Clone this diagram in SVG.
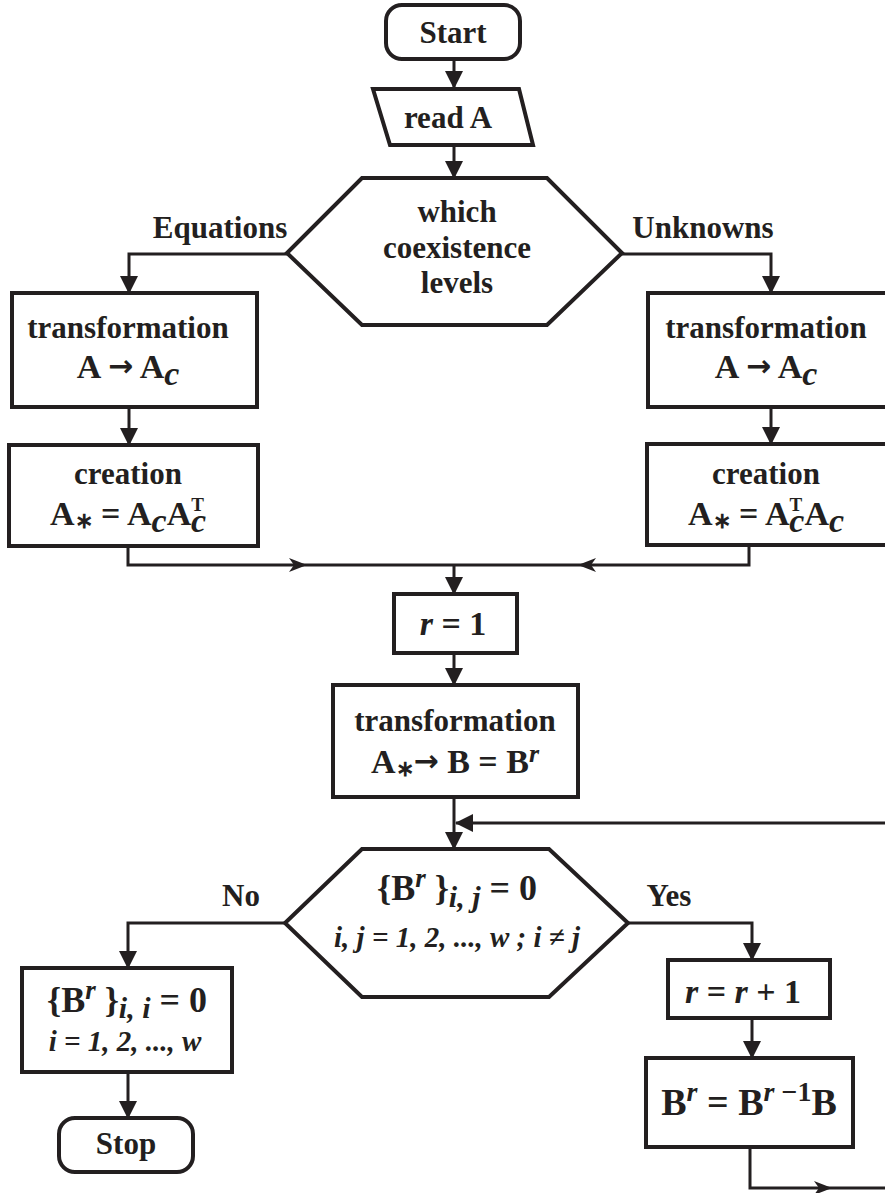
<svg xmlns="http://www.w3.org/2000/svg" width="885" height="1193" viewBox="0 0 885 1193">
<style>
.s{fill:#fff;stroke:#231f20;stroke-width:4}
.c{fill:none;stroke:#231f20;stroke-width:3}
.t{font-family:"Liberation Serif","Times New Roman",serif;font-weight:bold;font-size:31px;fill:#231f20;text-anchor:middle}
.m{font-size:34px}
.l{font-size:36px}
.xl{font-size:38px}
.i{font-style:italic}
.sm{font-size:29px}
.ar{font-family:"DejaVu Sans",sans-serif;font-weight:bold;font-size:30px}
.h{fill:#231f20}
</style>
<defs>
<marker id="ar" markerUnits="userSpaceOnUse" markerWidth="18" markerHeight="18" refX="17" refY="9" orient="auto">
<path d="M0,0 L18,9 L0,18 z" fill="#231f20"/>
</marker>
</defs>
<rect width="885" height="1193" fill="#fff"/>
<g id="connectors">
<path class="c" d="M454,59 V88" marker-end="url(#ar)"/>
<path class="c" d="M454,145 V178" marker-end="url(#ar)"/>
<path class="c" d="M287,254 H129 V293" marker-end="url(#ar)"/>
<path class="c" d="M622,254 H771 V293" marker-end="url(#ar)"/>
<path class="c" d="M129,407 V445" marker-end="url(#ar)"/>
<path class="c" d="M771,407 V444" marker-end="url(#ar)"/>
<path class="c" d="M128,546 V565 H454"/>
<path class="c" d="M749,545 V565 H454"/>
<path class="h" d="M307,565 L289,558 L294,565 L289,572 z"/>
<path class="h" d="M578,565 L596,558 L591,565 L596,572 z"/>
<path class="c" d="M454,565 V594" marker-end="url(#ar)"/>
<path class="c" d="M454,653 V685" marker-end="url(#ar)"/>
<path class="c" d="M454,797 V849" marker-end="url(#ar)"/>
<path class="c" d="M890,823 H456" marker-end="url(#ar)"/>
<path class="c" d="M285,923 H128 V968" marker-end="url(#ar)"/>
<path class="c" d="M628,923 H752 V960" marker-end="url(#ar)"/>
<path class="c" d="M128,1072 V1118" marker-end="url(#ar)"/>
<path class="c" d="M752,1018 V1058" marker-end="url(#ar)"/>
<path class="c" d="M750,1147 V1188 H890"/>
<path class="h" d="M832,1188 L814,1181 L819,1188 L814,1195 z"/>
</g>
<g id="labels">
<text class="t" x="220" y="238">Equations</text>
<text class="t" x="703" y="238">Unknowns</text>
<text class="t" x="241" y="906">No</text>
<text class="t" x="669" y="906">Yes</text>
</g>
<g id="start">
<rect class="s" x="386" y="5" width="134" height="54" rx="16"/>
<text class="t" x="453" y="43">Start</text>
</g>
<g id="readA">
<path class="s" d="M373,89 H519 L533,145 H390 z"/>
<text class="t" x="448" y="128">read A</text>
</g>
<g id="which">
<path class="s" d="M362,178 H547 L622,253 L547,325 H362 L287,253 z"/>
<text class="t" x="457" y="222">which</text>
<text class="t" x="457" y="258">coexistence</text>
<text class="t" x="457" y="293">levels</text>
</g>
<g id="transL">
<rect class="s" x="12" y="293" width="245" height="114"/>
<text class="t" x="128" y="338">transformation</text>
<text class="t m" x="128" y="378">A <tspan class="ar" dy="-2">→</tspan><tspan dy="2"> A</tspan><tspan class="i" dy="7">c</tspan></text>
</g>
<g id="createL">
<rect class="s" x="9" y="445" width="249" height="101"/>
<text class="t" x="128" y="484">creation</text>
<text class="t m" x="128" y="525">A<tspan font-size="22" dy="3">∗</tspan><tspan dy="-3"> = A</tspan><tspan class="i" dy="7">c</tspan><tspan dy="-7">A</tspan><tspan font-size="19" dy="-14">T</tspan><tspan class="i" dx="-13" dy="21">c</tspan></text>
</g>
<g id="transR">
<rect class="s" x="648" y="293" width="260" height="114"/>
<text class="t" x="766" y="338">transformation</text>
<text class="t m" x="766" y="378">A <tspan class="ar" dy="-2">→</tspan><tspan dy="2"> A</tspan><tspan class="i" dy="7">c</tspan></text>
</g>
<g id="createR">
<rect class="s" x="647" y="444" width="260" height="101"/>
<text class="t" x="766" y="484">creation</text>
<text class="t m" x="766" y="525">A<tspan font-size="22" dy="3">∗</tspan><tspan dy="-3"> = A</tspan><tspan font-size="19" dy="-14">T</tspan><tspan class="i" dx="-13" dy="21">c</tspan><tspan dy="-7">A</tspan><tspan class="i" dy="7">c</tspan></text>
</g>
<g id="r1">
<rect class="s" x="394" y="594" width="123" height="59"/>
<text class="t m" x="453" y="635"><tspan class="i">r</tspan> = 1</text>
</g>
<g id="transB">
<rect class="s" x="333" y="685" width="245" height="112"/>
<text class="t" x="455" y="731">transformation</text>
<text class="t m" x="455" y="773">A<tspan font-size="22" dy="3">∗</tspan><tspan class="ar" dy="-5">→</tspan><tspan dy="2"> B = B</tspan><tspan class="i" font-size="26" dy="-11">r</tspan></text>
</g>
<g id="decision">
<path class="s" d="M362,849 H549 L628,923 L549,997 H362 L285,923 z"/>
<text class="t l" x="457" y="900">{B<tspan class="i" font-size="27" dy="-13">r</tspan><tspan dy="13"> }</tspan><tspan class="i" font-size="30" dy="7">i, j</tspan><tspan dy="-7"> = 0</tspan></text>
<text class="t i sm" x="457" y="947">i, j = 1, 2, ..., w ; i ≠ j</text>
</g>
<g id="diag">
<rect class="s" x="22" y="968" width="210" height="104"/>
<text class="t l" x="127" y="1012">{B<tspan class="i" font-size="27" dy="-13">r</tspan><tspan dy="13"> }</tspan><tspan class="i" font-size="30" dy="6">i, i</tspan><tspan dy="-6"> = 0</tspan></text>
<text class="t i sm" x="125" y="1051">i = 1, 2, ..., w</text>
</g>
<g id="stop">
<rect class="s" x="59" y="1118" width="134" height="54" rx="16"/>
<text class="t" x="126" y="1154">Stop</text>
</g>
<g id="rinc">
<rect class="s" x="668" y="960" width="162" height="58"/>
<text class="t m" x="743" y="1003"><tspan class="i">r</tspan> = <tspan class="i">r</tspan> + 1</text>
</g>
<g id="bpow">
<rect class="s" x="646" y="1058" width="207" height="89"/>
<text class="t xl" x="749" y="1115">B<tspan class="i" font-size="28" dy="-14">r</tspan><tspan dy="14"> = B</tspan><tspan font-size="28" dy="-14"><tspan class="i">r</tspan> −1</tspan><tspan dy="14">B</tspan></text>
</g>
</svg>
